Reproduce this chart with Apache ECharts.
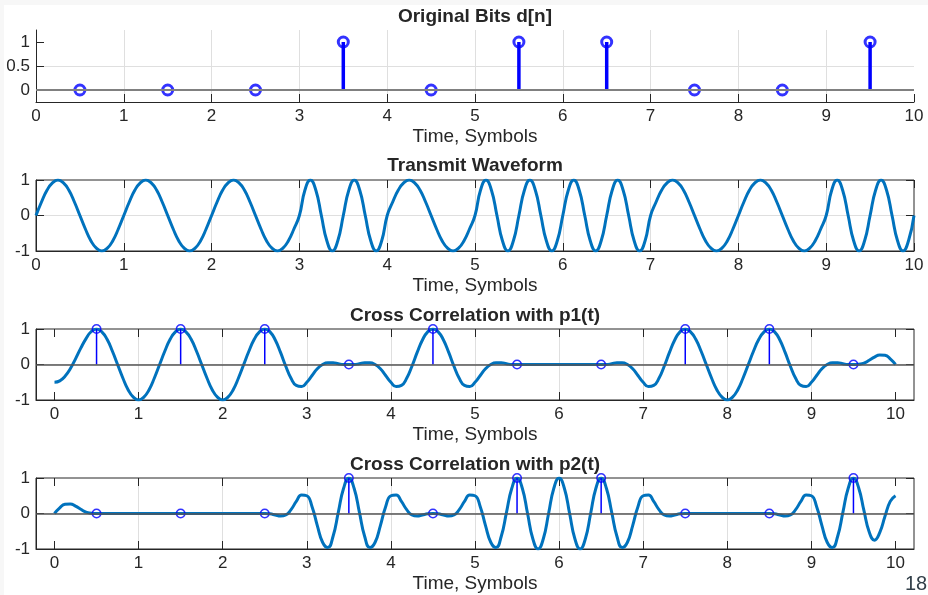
<!DOCTYPE html>
<html>
<head>
<meta charset="utf-8">
<script src="https://cdn.jsdelivr.net/npm/echarts@6/dist/echarts.min.js"></script>
<style>
html, body { margin: 0; padding: 0; background: #f7f7f7; }
#paper { position: absolute; left: 4px; top: 5px; width: 924px; height: 590px; background: #fff; }
#main { position: absolute; left: 0; top: 0; width: 928px; height: 595px; }
</style>
</head>
<body>
<div id="paper"></div>
<div id="main"></div>
<script>
// 数据 / data
var bitTimes = [0.5, 1.5, 2.5, 3.5, 4.5, 5.5, 6.5, 7.5, 8.5, 9.5];
var bits = [0, 0, 0, 1, 0, 1, 1, 0, 0, 1];
var p1Samples = [1, 1, 1, 0, 1, 0, 0, 1, 1, 0];
var p2Samples = [0, 0, 0, 1, 0, 1, 1, 0, 0, 1];
var xTicks = [0, 1, 2, 3, 4, 5, 6, 7, 8, 9, 10];
var bitTicks = [0, 0.5, 1];
var waveTicks = [-1, 0, 1];
var sampleStep = 1 / 16;   // curves below are read every 1/16 symbol, from t = 0 to 10

var txWave = [
  0, 0.38, 0.71, 0.92, 1, 0.92, 0.71, 0.38, 0, -0.38, -0.71, -0.92, -1, -0.92, -0.71, -0.38,
  0, 0.38, 0.71, 0.92, 1, 0.92, 0.71, 0.38, 0, -0.38, -0.71, -0.92, -1, -0.92, -0.71, -0.38,
  0, 0.38, 0.71, 0.92, 1, 0.92, 0.71, 0.38, 0, -0.38, -0.71, -0.92, -1, -0.92, -0.71, -0.38,
  0, 0.71, 1, 0.71, 0, -0.71, -1, -0.71, 0, 0.71, 1, 0.71, 0, -0.71, -1, -0.71,
  0, 0.38, 0.71, 0.92, 1, 0.92, 0.71, 0.38, 0, -0.38, -0.71, -0.92, -1, -0.92, -0.71, -0.38,
  0, 0.71, 1, 0.71, 0, -0.71, -1, -0.71, 0, 0.71, 1, 0.71, 0, -0.71, -1, -0.71,
  0, 0.71, 1, 0.71, 0, -0.71, -1, -0.71, 0, 0.71, 1, 0.71, 0, -0.71, -1, -0.71,
  0, 0.38, 0.71, 0.92, 1, 0.92, 0.71, 0.38, 0, -0.38, -0.71, -0.92, -1, -0.92, -0.71, -0.38,
  0, 0.38, 0.71, 0.92, 1, 0.92, 0.71, 0.38, 0, -0.38, -0.71, -0.92, -1, -0.92, -0.71, -0.38,
  0, 0.71, 1, 0.71, 0, -0.71, -1, -0.71, 0, 0.71, 1, 0.71, 0, -0.71, -1, -0.71,
  0
];

var corrP1 = [
  -0.5, -0.46, -0.33, -0.12, 0.16, 0.46, 0.73, 0.93,
  1, 0.92, 0.71, 0.38, 0, -0.38, -0.71, -0.92, -1, -0.92, -0.71, -0.38, 0, 0.38, 0.71, 0.92,
  1, 0.92, 0.71, 0.38, 0, -0.38, -0.71, -0.92, -1, -0.92, -0.71, -0.38, 0, 0.38, 0.71, 0.92,
  1, 0.92, 0.69, 0.34, -0.05, -0.39, -0.59, -0.62, -0.5, -0.31, -0.12, 0, 0.05, 0.05, 0.02, 0,
  0, 0, 0.02, 0.05, 0.05, 0, -0.12, -0.31, -0.5, -0.62, -0.59, -0.39, -0.05, 0.34, 0.69, 0.92,
  1, 0.92, 0.69, 0.34, -0.05, -0.39, -0.59, -0.62, -0.5, -0.31, -0.12, 0, 0.05, 0.05, 0.02, 0,
  0, 0, 0, 0, 0, 0, 0, 0, 0, 0, 0, 0, 0, 0, 0, 0,
  0, 0, 0.02, 0.05, 0.05, 0, -0.12, -0.31, -0.5, -0.62, -0.59, -0.39, -0.05, 0.34, 0.69, 0.92,
  1, 0.92, 0.71, 0.38, 0, -0.38, -0.71, -0.92, -1, -0.92, -0.71, -0.38, 0, 0.38, 0.71, 0.92,
  1, 0.92, 0.69, 0.34, -0.05, -0.39, -0.59, -0.62, -0.5, -0.31, -0.12, 0, 0.05, 0.05, 0.02, 0,
  0, 0.01, 0.04, 0.12, 0.21, 0.27, 0.26, 0.16, 0
];

var corrP2 = [
  0, 0.16, 0.26, 0.27, 0.21, 0.12, 0.04, 0.01,
  0, 0, 0, 0, 0, 0, 0, 0, 0, 0, 0, 0, 0, 0, 0, 0,
  0, 0, 0, 0, 0, 0, 0, 0, 0, 0, 0, 0, 0, 0, 0, 0,
  0, -0.01, -0.04, -0.07, -0.04, 0.11, 0.34, 0.52, 0.5, 0.19, -0.34, -0.81, -0.96, -0.64, 0.04, 0.71,
  1, 0.71, 0.04, -0.64, -0.96, -0.81, -0.34, 0.19, 0.5, 0.52, 0.34, 0.11, -0.04, -0.07, -0.04, -0.01,
  0, -0.01, -0.04, -0.07, -0.04, 0.11, 0.34, 0.52, 0.5, 0.19, -0.34, -0.81, -0.96, -0.64, 0.04, 0.71,
  1, 0.71, 0, -0.71, -1, -0.71, 0, 0.71, 1, 0.71, 0, -0.71, -1, -0.71, 0, 0.71,
  1, 0.71, 0.04, -0.64, -0.96, -0.81, -0.34, 0.19, 0.5, 0.52, 0.34, 0.11, -0.04, -0.07, -0.04, -0.01,
  0, 0, 0, 0, 0, 0, 0, 0, 0, 0, 0, 0, 0, 0, 0, 0,
  0, -0.01, -0.04, -0.07, -0.04, 0.11, 0.34, 0.52, 0.5, 0.19, -0.34, -0.81, -0.96, -0.64, 0.04, 0.71,
  1, 0.72, 0.08, -0.52, -0.75, -0.54, -0.08, 0.34, 0.5
];

// 样式 / styles
var FONT = "'Liberation Sans', Arial, Helvetica, sans-serif";
var AXIS = '#262626';
var GRID_LINE = '#dfdfdf';
var WAVE = '#0072bd';
var STEM = '#0000ff';

function timed(values) {
  return values.map(function (v, i) { return [i * sampleStep, v]; });
}
function stems(times, values) {
  return values.map(function (v, i) { return [times[i], v]; });
}

function bottomX(grid, min, max, fixedInterval) {
  var ax = {
    type: 'value', gridIndex: grid, min: min, max: max, position: 'bottom',
    axisLine: { show: true, onZero: false, lineStyle: { color: AXIS, width: 1 } },
    axisTick: { show: true, inside: true, length: 8, customValues: xTicks, lineStyle: { color: AXIS } },
    axisLabel: { show: true, margin: 6, color: AXIS, fontSize: 17, fontFamily: FONT,
      customValues: xTicks, showMinLabel: true, showMaxLabel: true },
    splitLine: { show: true, showMinLine: false, showMaxLine: false, lineStyle: { color: GRID_LINE, width: 1 } },
    name: 'Time, Symbols', nameLocation: 'middle', nameGap: 25,
    nameTextStyle: { color: AXIS, fontSize: 19, fontFamily: FONT }
  };
  if (fixedInterval) { ax.interval = 1; } else { ax.splitNumber = 10; }
  return ax;
}
function topX(grid, min, max, fixedInterval) {
  var ax = {
    type: 'value', gridIndex: grid, min: min, max: max, position: 'top',
    axisLine: { show: false, onZero: false },
    axisTick: { show: true, inside: true, length: 8, customValues: xTicks, lineStyle: { color: AXIS } },
    axisLabel: { show: false }, splitLine: { show: false }
  };
  if (fixedInterval) { ax.interval = 1; } else { ax.splitNumber = 10; }
  return ax;
}
function leftY(grid, min, max, ticks) {
  var ax = {
    type: 'value', gridIndex: grid, min: min, max: max, position: 'left',
    axisLine: { show: true, onZero: false, lineStyle: { color: AXIS, width: 1 } },
    axisTick: { show: true, inside: true, length: 8, customValues: ticks, lineStyle: { color: AXIS } },
    axisLabel: { show: true, margin: 6, color: AXIS, fontSize: 17, fontFamily: FONT,
      customValues: ticks, showMinLabel: true, showMaxLabel: true },
    splitLine: { show: true, showMinLine: false, showMaxLine: false, lineStyle: { color: GRID_LINE, width: 1 } }
  };
  if (min === -1) { ax.interval = 1; } else { ax.splitNumber = 3; }
  return ax;
}
function rightY(grid, ticks) {
  return {
    type: 'value', gridIndex: grid, min: -1, max: 1, interval: 1, position: 'right',
    axisLine: { show: false, onZero: false },
    axisTick: { show: true, inside: true, length: 8, customValues: ticks, lineStyle: { color: AXIS } },
    axisLabel: { show: false }, splitLine: { show: false }
  };
}
function baseline(x, y, color, width) {
  return {
    type: 'line', xAxisIndex: x, yAxisIndex: y, data: [], z: 1, silent: true,
    markLine: { silent: true, symbol: 'none', label: { show: false },
      lineStyle: { color: color, width: width, type: 'solid' }, data: [{ yAxis: 0 }] }
  };
}
function curve(x, y, values) {
  return {
    type: 'line', xAxisIndex: x, yAxisIndex: y, data: timed(values), smooth: 0.5,
    showSymbol: false, z: 2, lineStyle: { color: WAVE, width: 3 }
  };
}
function stemBars(x, y, values, w) {
  return { type: 'bar', xAxisIndex: x, yAxisIndex: y, data: stems(bitTimes, values), barWidth: w, z: 3,
    itemStyle: { color: STEM } };
}
function stemHeads(x, y, values, size, bw) {
  return { type: 'scatter', xAxisIndex: x, yAxisIndex: y, data: stems(bitTimes, values), z: 4,
    symbol: 'circle', symbolSize: size,
    itemStyle: { color: 'rgba(0,0,0,0)', borderColor: STEM, borderWidth: bw } };
}
function titleText(text, y) {
  return { type: 'text', x: 475, y: y, silent: true,
    style: { text: text, fontSize: 19, fontWeight: 'bold', fontFamily: FONT, fill: AXIS,
      align: 'center', verticalAlign: 'middle', textAlign: 'center', textVerticalAlign: 'middle' } };
}

var chart = echarts.init(document.getElementById('main'), null, { renderer: 'canvas' });
var option = {
  animation: false,
  backgroundColor: 'transparent',
  grid: [
    { left: 36, top: 30, width: 878, height: 72, show: false },
    { left: 36, top: 180, width: 878, height: 71, show: true, borderColor: AXIS, borderWidth: 1, backgroundColor: 'transparent' },
    { left: 36, top: 329, width: 878, height: 71, show: true, borderColor: AXIS, borderWidth: 1, backgroundColor: 'transparent' },
    { left: 36, top: 478, width: 878, height: 71, show: true, borderColor: AXIS, borderWidth: 1, backgroundColor: 'transparent' }
  ],
  xAxis: [
    bottomX(0, 0, 10, true),
    bottomX(1, 0, 10, true), topX(1, 0, 10, true),
    bottomX(2, -0.22, 10.22, false), topX(2, -0.22, 10.22, false),
    bottomX(3, -0.22, 10.22, false), topX(3, -0.22, 10.22, false)
  ],
  yAxis: [
    leftY(0, -0.25, 1.25, bitTicks),
    leftY(1, -1, 1, waveTicks), rightY(1, waveTicks),
    leftY(2, -1, 1, waveTicks), rightY(2, waveTicks),
    leftY(3, -1, 1, waveTicks), rightY(3, waveTicks)
  ],
  graphic: [
    titleText('Original Bits d[n]', 16.5),
    titleText('Transmit Waveform', 166),
    titleText('Cross Correlation with p1(t)', 315.5),
    titleText('Cross Correlation with p2(t)', 464.5),
    { type: 'text', x: 916, y: 584, silent: true,
      style: { text: '18', fontSize: 20, fontFamily: FONT, fill: '#33404a',
        align: 'center', verticalAlign: 'middle', textAlign: 'center', textVerticalAlign: 'middle' } }
  ],
  series: [
    // 原始比特
    baseline(0, 0, '#808080', 2),
    stemBars(0, 0, bits, 3.5),
    stemHeads(0, 0, bits, 10, 3),
    // 发射波形
    curve(1, 1, txWave),
    // 与 p1 互相关
    baseline(3, 3, '#555555', 1.5),
    curve(3, 3, corrP1),
    stemBars(3, 3, p1Samples, 1.5),
    stemHeads(3, 3, p1Samples, 8.5, 1.5),
    // 与 p2 互相关
    baseline(5, 5, '#555555', 1.5),
    curve(5, 5, corrP2),
    stemBars(5, 5, p2Samples, 1.5),
    stemHeads(5, 5, p2Samples, 8.5, 1.5)
  ]
};
chart.setOption(option);
</script>
</body>
</html>
